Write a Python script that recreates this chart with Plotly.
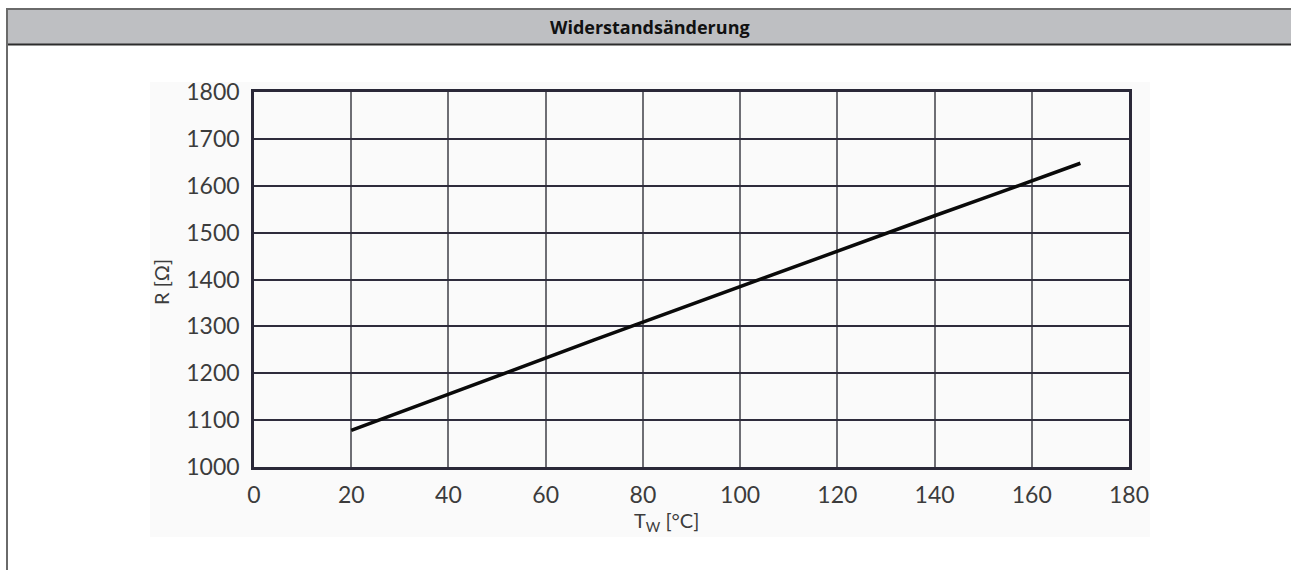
import plotly.graph_objects as go

# Data
temperature_c = [20, 30, 40, 50, 60, 70, 80, 90, 100, 110, 120, 130, 140, 150, 160, 170]
resistance_ohm = [1078, 1117, 1155, 1194, 1232, 1271, 1309, 1347, 1385, 1423, 1461, 1498, 1536, 1573, 1610, 1648]
x_ticks = [0, 20, 40, 60, 80, 100, 120, 140, 160, 180]
y_ticks = [1000, 1100, 1200, 1300, 1400, 1500, 1600, 1700, 1800]

title_text = "Widerstandsänderung"
x_title = "T<sub>W</sub> [°C]"
y_title = "R [Ω]"

W, H = 1291, 570
L, R, T, B = 254, 1129, 92, 467  # plot area pixels


def px(x):
    return (x - L) / (R - L)


def py(y):
    return (B - y) / (B - T)


fig = go.Figure()
fig.add_trace(go.Scatter(x=temperature_c, y=resistance_ohm, mode="lines",
                         line=dict(color="#0a0a0a", width=3.5), showlegend=False,
                         hoverinfo="skip"))

shapes = [
    # light panel behind chart
    dict(type="rect", xref="paper", yref="paper", x0=px(150), x1=px(1150), y0=py(537), y1=py(82),
         fillcolor="#fafafa", line=dict(width=0), layer="below"),
    # header bar
    dict(type="rect", xref="paper", yref="paper", x0=px(7), x1=px(1292), y0=py(44.5), y1=py(9.5),
         fillcolor="#bebfc2", line=dict(width=0), layer="below"),
    dict(type="line", xref="paper", yref="paper", x0=px(7), x1=px(1292), y0=py(9), y1=py(9),
         line=dict(color="#6a6a6a", width=2)),
    dict(type="line", xref="paper", yref="paper", x0=px(7), x1=px(1292), y0=py(44.5), y1=py(44.5),
         line=dict(color="#2c2c2c", width=2)),
    # left border
    dict(type="line", xref="paper", yref="paper", x0=px(7), x1=px(7), y0=py(8), y1=py(572),
         line=dict(color="#6a6a6a", width=2)),
]

fig.update_layout(
    width=W, height=H,
    margin=dict(l=L, r=W - R, t=T, b=H - B, pad=0),
    paper_bgcolor="white",
    plot_bgcolor="#fbfbfb",
    shapes=shapes,
    font=dict(family="Lato, 'Open Sans', sans-serif", color="#3c3c3c"),
    annotations=[
        dict(text=f"<b>{title_text}</b>", xref="paper", yref="paper", x=px(650), y=py(27),
             showarrow=False, xanchor="center", yanchor="middle",
             font=dict(family="'Open Sans', sans-serif", size=18, color="#111111")),
        dict(text=x_title, xref="paper", yref="paper", x=px(666), y=py(521),
             showarrow=False, xanchor="center", yanchor="middle",
             font=dict(size=20, color="#3c3c3c")),
        dict(text=y_title, xref="paper", yref="paper", x=px(161), y=py(282),
             showarrow=False, xanchor="center", yanchor="middle", textangle=-90,
             font=dict(size=20, color="#3c3c3c")),
    ],
)

fig.update_xaxes(range=[0, 180], tickvals=x_ticks, ticktext=[str(v) for v in x_ticks],
                 showgrid=True, gridcolor="#6e6e74", gridwidth=1.5,
                 showline=True, linecolor="#2a2838", linewidth=2.5, mirror=True,
                 ticks="outside", ticklen=6, tickcolor="rgba(0,0,0,0)",
                 tickfont=dict(size=23, color="#3c3c3c"), zeroline=False, fixedrange=True)
fig.update_yaxes(range=[1000, 1800], tickvals=y_ticks, ticktext=[str(v) for v in y_ticks],
                 showgrid=True, gridcolor="#2e2c3c", gridwidth=1.5,
                 showline=True, linecolor="#2a2838", linewidth=2.5, mirror=True,
                 ticks="outside", ticklen=7, tickcolor="rgba(0,0,0,0)",
                 tickfont=dict(size=23, color="#3c3c3c"), zeroline=False, fixedrange=True)

fig.write_html("out.html", config={"displayModeBar": False},
               post_script="document.body.style.margin='0px';document.body.style.overflow='hidden';")
